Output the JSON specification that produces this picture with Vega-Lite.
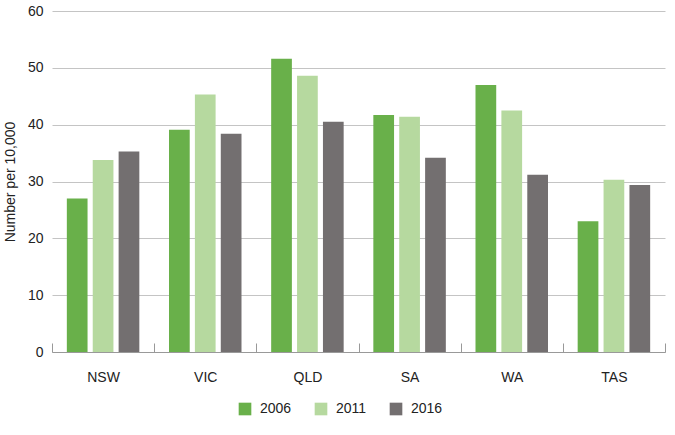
{
  "$schema": "https://vega.github.io/schema/vega-lite/v6.json",
  "autosize": "none",
  "width": 613,
  "height": 341,
  "padding": {"left": 52, "top": 11, "right": 10, "bottom": 83},
  "background": "white",
  "config": {
    "font": "Liberation Sans",
    "view": {"stroke": null}
  },
  "data": {
    "values": [
      {"state": "NSW", "year": "2006", "value": 27.0},
      {"state": "NSW", "year": "2011", "value": 33.8},
      {"state": "NSW", "year": "2016", "value": 35.3},
      {"state": "VIC", "year": "2006", "value": 39.1},
      {"state": "VIC", "year": "2011", "value": 45.3},
      {"state": "VIC", "year": "2016", "value": 38.4},
      {"state": "QLD", "year": "2006", "value": 51.6},
      {"state": "QLD", "year": "2011", "value": 48.6},
      {"state": "QLD", "year": "2016", "value": 40.5},
      {"state": "SA", "year": "2006", "value": 41.7},
      {"state": "SA", "year": "2011", "value": 41.4},
      {"state": "SA", "year": "2016", "value": 34.2},
      {"state": "WA", "year": "2006", "value": 47.0},
      {"state": "WA", "year": "2011", "value": 42.5},
      {"state": "WA", "year": "2016", "value": 31.2},
      {"state": "TAS", "year": "2006", "value": 23.0},
      {"state": "TAS", "year": "2011", "value": 30.3},
      {"state": "TAS", "year": "2016", "value": 29.4}
    ]
  },
  "mark": {"type": "bar"},
  "encoding": {
    "x": {
      "field": "state",
      "type": "nominal",
      "sort": ["NSW", "VIC", "QLD", "SA", "WA", "TAS"],
      "scale": {"paddingInner": 0, "paddingOuter": 0},
      "axis": {
        "title": null,
        "labelAngle": 0,
        "labelFontSize": 14,
        "labelColor": "#222",
        "labelPadding": 27,
        "domainColor": "#999",
        "tickColor": "#999",
        "tickBand": "extent",
        "tickSize": -9,
        "grid": false
      }
    },
    "xOffset": {
      "field": "year",
      "type": "nominal",
      "scale": {"paddingInner": 0.2, "paddingOuter": 0.573}
    },
    "y": {
      "field": "value",
      "type": "quantitative",
      "scale": {"domain": [0, 60]},
      "axis": {
        "title": "Number per 10,000",
        "titleFontSize": 14,
        "titleFontWeight": "normal",
        "titleColor": "#222",
        "titlePadding": 10,
        "values": [0, 10, 20, 30, 40, 50, 60],
        "labelFontSize": 14,
        "labelColor": "#222",
        "labelPadding": 9,
        "domain": false,
        "ticks": false,
        "gridColor": "#c4c4c4"
      }
    },
    "color": {
      "field": "year",
      "type": "nominal",
      "scale": {"domain": ["2006", "2011", "2016"], "range": ["#69b04a", "#b6d99f", "#736f70"]},
      "legend": {
        "title": null,
        "orient": "none",
        "legendX": 186,
        "legendY": 391,
        "direction": "horizontal",
        "symbolType": "square",
        "symbolSize": 160,
        "symbolStrokeWidth": 0,
        "labelFontSize": 14,
        "labelColor": "#222",
        "columnPadding": 22,
        "labelOffset": 8
      }
    }
  }
}
